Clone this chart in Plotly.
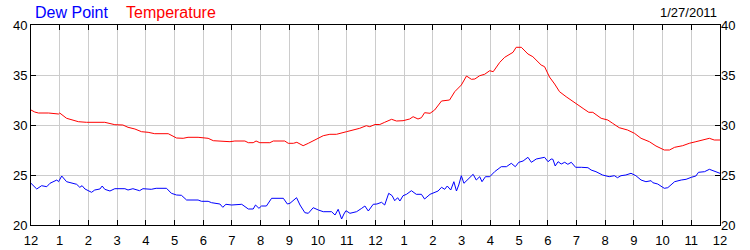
import plotly.graph_objects as go

temp_hours = [0, 0.13, 0.26, 0.61, 0.96, 1.0, 1.24, 1.65, 1.93, 2.57, 2.92, 3.2, 3.38, 3.62, 3.85, 4.08, 4.31,
              4.78, 5.07, 5.3, 5.47, 5.82, 6.17, 6.35, 6.93, 7.1, 7.45, 7.57, 7.74, 7.84, 7.97, 8.32, 8.44,
              8.84, 8.96, 9.14, 9.26, 9.48, 9.66, 9.83, 10.18, 10.41, 10.64, 10.99, 11.22, 11.45, 11.68,
              11.8, 11.98, 12.15, 12.32, 12.56, 12.73, 12.96, 13.19, 13.31, 13.48, 13.6, 13.71, 13.9,
              14.06, 14.3, 14.58, 14.76, 14.99, 15.17, 15.34, 15.46, 15.63, 15.8, 15.98, 16.1, 16.33,
              16.5, 16.79, 16.9, 17.08, 17.31, 17.48, 17.77, 17.89, 18.06, 18.24, 18.41, 18.64, 19.03,
              19.26, 19.43, 19.57, 19.86, 20.09, 20.26, 20.49, 20.78, 21.02, 21.25, 21.54, 21.77, 22.06,
              22.24, 22.42, 22.7, 22.93, 23.16, 23.39, 23.63, 23.8, 24.0]
temp_values = [31.5, 31.3, 31.2, 31.2, 31.1, 31.2, 30.67, 30.33, 30.27, 30.27, 30.03, 30.0, 29.77, 29.6,
               29.33, 29.27, 29.13, 29.13, 28.7, 28.67, 28.77, 28.77, 28.67, 28.43, 28.33, 28.4, 28.4,
               28.23, 28.23, 28.4, 28.23, 28.23, 28.4, 28.4, 28.17, 28.17, 28.27, 27.93, 28.17, 28.4,
               28.93, 29.07, 29.07, 29.33, 29.5, 29.67, 29.93, 29.83, 30.05, 30.05, 30.27, 30.57, 30.4,
               30.43, 30.6, 30.83, 30.6, 30.73, 31.23, 31.17, 31.5, 32.4, 32.5, 33.33, 34.0, 34.9, 34.57,
               34.6, 34.93, 35.07, 35.43, 35.33, 36.27, 36.77, 37.27, 37.77, 37.77, 37.1, 36.83, 36.0,
               35.83, 34.8, 34.1, 33.33, 32.83, 32.0, 31.6, 31.27, 31.27, 30.67, 30.5, 30.17, 29.73,
               29.5, 29.17, 28.67, 28.33, 27.9, 27.5, 27.5, 27.77, 27.93, 28.17, 28.33, 28.5, 28.67,
               28.5, 28.5]

dew_hours = [0, 0.2, 0.37, 0.55, 0.66, 0.78, 0.9, 0.96, 1.07, 1.24, 1.41, 1.59, 1.7, 1.78, 1.88, 2.11,
             2.22, 2.4, 2.48, 2.57, 2.75, 2.92, 3.27, 3.38, 3.55, 3.78, 3.9, 4.19, 4.36, 4.72, 4.89,
             5.07, 5.24, 5.42, 5.82, 5.94, 6.17, 6.29, 6.58, 6.68, 6.79, 6.99, 7.34, 7.57, 7.74, 7.82,
             7.94, 8.03, 8.2, 8.38, 8.79, 8.93, 9.02, 9.14, 9.25, 9.37, 9.54, 9.66, 9.83, 10.01, 10.18,
             10.47, 10.59, 10.7, 10.82, 10.9, 10.97, 11.11, 11.34, 11.52, 11.63, 11.75, 11.92, 12.05,
             12.21, 12.32, 12.46, 12.58, 12.67, 12.77, 12.85, 12.96, 13.08, 13.25, 13.42, 13.6, 13.71,
             13.9, 14.06, 14.18, 14.3, 14.41, 14.5, 14.62, 14.73, 14.82, 14.9, 14.99, 15.08, 15.22,
             15.4, 15.51, 15.63, 15.71, 15.83, 15.98, 16.15, 16.38, 16.56, 16.73, 16.87, 16.99, 17.14,
             17.31, 17.43, 17.6, 17.74, 17.89, 18.01, 18.12, 18.18, 18.26, 18.36, 18.47, 18.59, 18.7,
             18.82, 18.9, 18.97, 19.17, 19.4, 19.51, 19.68, 19.91, 20.14, 20.32, 20.43, 20.55, 20.72,
             20.9, 21.07, 21.25, 21.42, 21.6, 21.66, 21.83, 22.06, 22.18, 22.42, 22.65, 22.82, 23.0,
             23.16, 23.25, 23.46, 23.63, 23.8, 24.0]
dew_values = [24.17, 23.6, 23.93, 23.83, 24.17, 24.33, 24.5, 24.33, 24.9, 24.33, 24.17, 24.07, 23.77,
              23.93, 23.6, 23.27, 23.5, 23.6, 23.9, 23.57, 23.4, 23.63, 23.63, 23.5, 23.63, 23.43,
              23.63, 23.57, 23.67, 23.67, 23.17, 23.0, 22.97, 22.5, 22.5, 22.37, 22.37, 22.23, 22.1,
              21.77, 22.07, 22.0, 22.07, 21.6, 21.6, 22.0, 21.67, 21.9, 21.9, 22.67, 22.67, 22.1,
              22.17, 22.43, 22.73, 22.0, 21.23, 21.17, 21.73, 21.5, 21.33, 21.33, 21.0, 21.57, 20.6,
              21.1, 21.43, 21.17, 21.33, 21.67, 21.9, 21.4, 22.07, 22.1, 22.27, 22.0, 23.17, 22.93,
              22.43, 22.73, 22.4, 22.93, 23.07, 23.43, 23.07, 23.07, 22.6, 23.07, 23.27, 23.4, 23.77,
              23.57, 23.9, 23.5, 24.33, 23.4, 24.0, 24.93, 24.17, 24.6, 25.07, 24.5, 24.83, 24.33,
              24.83, 24.83, 25.33, 25.83, 25.83, 26.17, 25.83, 26.27, 26.4, 26.77, 26.27, 26.6, 26.67,
              26.77, 26.33, 26.6, 26.57, 25.9, 26.33, 26.1, 26.27, 26.07, 26.27, 26.0, 25.77, 25.77,
              25.73, 25.5, 25.33, 25.0, 24.83, 24.93, 24.73, 24.93, 25.0, 25.17, 24.93, 24.5, 24.33,
              24.43, 24.23, 24.1, 23.67, 23.73, 24.33, 24.5, 24.57, 24.77, 24.9, 25.27, 25.33, 25.57,
              25.4, 25.17]

tick_hours = list(range(0, 25))
tick_labels = ["12", "1", "2", "3", "4", "5", "6", "7", "8", "9", "10", "11",
               "12", "1", "2", "3", "4", "5", "6", "7", "8", "9", "10", "11", "12"]
y_ticks = [20, 25, 30, 35, 40]
series_names = ["Dew Point", "Temperature"]
date_label = "1/27/2011"

FONT = "Liberation Sans, Arial, sans-serif"

fig = go.Figure()
fig.add_trace(go.Scatter(x=dew_hours, y=dew_values, mode="lines", name=series_names[0],
                         line=dict(color="#0000ff", width=1)))
fig.add_trace(go.Scatter(x=temp_hours, y=temp_values, mode="lines", name=series_names[1],
                         line=dict(color="#ff0000", width=1)))
# invisible trace for right axis
fig.add_trace(go.Scatter(x=[0], y=[20], yaxis="y2", mode="markers", marker=dict(opacity=0),
                         showlegend=False, hoverinfo="skip"))

fig.update_layout(
    width=750, height=250,
    margin=dict(l=31, r=30, t=25, b=25),
    paper_bgcolor="white", plot_bgcolor="white",
    showlegend=False,
    font=dict(family=FONT, size=13, color="#000000"),
    xaxis=dict(range=[0, 24], tickvals=tick_hours, ticktext=tick_labels,
               showgrid=True, gridcolor="#cccccc", gridwidth=1,
               showline=True, linecolor="black", linewidth=1, mirror="ticks",
               ticks="inside", ticklen=5, tickcolor="black", tickwidth=1,
               zeroline=False, tickfont=dict(size=13), ticklabelstandoff=3,
               automargin=False),
    yaxis=dict(range=[20, 40], tickvals=y_ticks,
               showgrid=True, gridcolor="#cccccc", gridwidth=1,
               showline=True, linecolor="black", linewidth=1, mirror="ticks",
               ticks="inside", ticklen=5, tickcolor="black", tickwidth=1,
               zeroline=False, tickfont=dict(size=13), automargin=False),
    yaxis2=dict(range=[20, 40], tickvals=y_ticks, overlaying="y", side="right",
                showgrid=False, showline=False, ticks="", zeroline=False,
                tickfont=dict(size=13), automargin=False),
    annotations=[
        dict(text=series_names[0], x=33, y=12, xref="paper", yref="paper", showarrow=False,
             font=dict(color="#0000ff", size=16)),
        dict(text=series_names[1], x=124, y=12, xref="paper", yref="paper", showarrow=False,
             font=dict(color="#ff0000", size=16)),
        dict(text=date_label, x=719, y=12, xref="paper", yref="paper", showarrow=False,
             font=dict(color="#000000", size=13)),
    ],
)

# convert pixel positions of annotations to paper coords
pw = 750 - 31 - 30
ph = 250 - 25 - 25
for ann, anchor in zip(fig.layout.annotations, ["left", "left", "right"]):
    px, py = ann.x, ann.y
    ann.x = (px - 31) / pw
    ann.y = (250 - 25 - py) / ph
    ann.xanchor = anchor
    ann.yanchor = "middle"

fig.write_html("out.html")
